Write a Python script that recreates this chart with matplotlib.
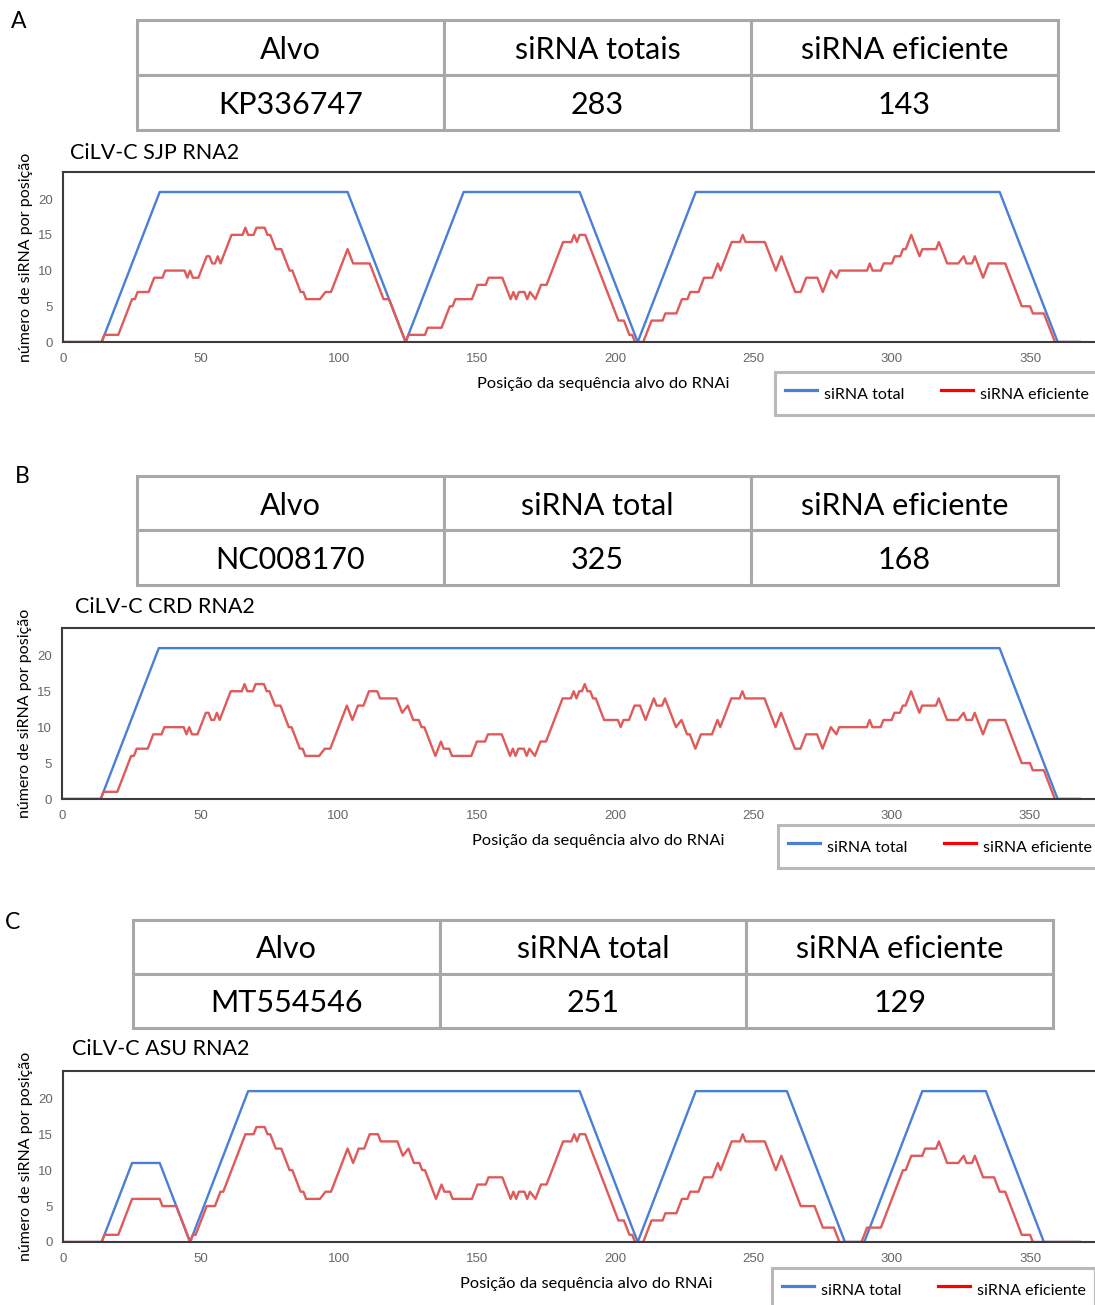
import matplotlib
matplotlib.use("Agg")
import matplotlib.pyplot as plt
from matplotlib.lines import Line2D

W, H = 1095, 1305

# ---------------- data ----------------
x_ticks = [0, 50, 100, 150, 200, 250, 300, 350]
y_ticks = [0, 5, 10, 15, 20]

header_a = ["Alvo", "siRNA totais", "siRNA eficiente"]
header_bc = ["Alvo", "siRNA total", "siRNA eficiente"]
row_a = ["KP336747", "283", "143"]
row_b = ["NC008170", "325", "168"]
row_c = ["MT554546", "251", "129"]

titles = ["CiLV-C SJP RNA2", "CiLV-C CRD RNA2", "CiLV-C ASU RNA2"]
letters = ["A", "B", "C"]
legend_labels = ["siRNA total", "siRNA eficiente"]
xlabel = "Posição da sequência alvo do RNAi"
ylabel = "número de siRNA por posição"

# siRNA total per position (position, count)
total_a = [(0, 0), (14, 0), (35, 21), (103, 21), (124, 0), (145, 21), (187, 21),
           (208, 0), (229, 21), (339, 21), (360, 0), (368, 0)]
total_b = [(0, 0), (14, 0), (35, 21), (339, 21), (360, 0), (368, 0)]
total_c = [(0, 0), (14, 0), (25, 11), (35, 11), (46, 0), (67, 21), (187, 21),
           (208, 0), (229, 21), (262, 21), (283, 0), (290, 0), (311, 21),
           (334, 21), (355, 0), (368, 0)]

# siRNA eficiente per position (position, count)
eff_a = [(0, 0), (14, 0), (15, 1), (20, 1), (25, 6), (26, 6), (27, 7), (31, 7),
         (33, 9), (36, 9), (37, 10), (44, 10), (45, 9), (46, 10), (47, 9), (49, 9),
         (52, 12), (53, 12), (54, 11), (55, 11), (56, 12), (57, 11), (61, 15),
         (65, 15), (66, 16), (67, 15), (69, 15), (70, 16), (73, 16), (74, 15),
         (75, 15), (77, 13), (79, 13), (82, 10), (83, 10), (86, 7), (87, 7),
         (88, 6), (93, 6), (95, 7), (97, 7), (103, 13), (105, 11), (111, 11),
         (116, 6), (118, 6), (124, 0), (125, 1), (131, 1), (132, 2), (137, 2),
         (139, 4), (140, 5), (141, 5), (142, 6), (148, 6), (150, 8), (153, 8),
         (154, 9), (159, 9), (161, 7), (162, 6), (163, 7), (164, 6), (165, 7),
         (167, 7), (168, 6), (169, 7), (171, 6), (173, 8), (175, 8), (181, 14),
         (184, 14), (185, 15), (186, 14), (187, 15), (189, 15), (191, 13),
         (201, 3), (203, 3), (205, 1), (206, 1), (207, 0), (210, 0), (213, 3),
         (217, 3), (218, 4), (222, 4), (224, 6), (226, 6), (227, 7), (230, 7),
         (232, 9), (235, 9), (237, 11), (238, 10), (242, 14), (245, 14),
         (246, 15), (247, 14), (254, 14), (258, 10), (260, 12), (265, 7),
         (267, 7), (269, 9), (273, 9), (275, 7), (278, 10), (280, 9), (281, 10),
         (291, 10), (292, 11), (293, 10), (296, 10), (297, 11), (300, 11),
         (301, 12), (303, 12), (304, 13), (305, 13), (307, 15), (310, 12),
         (311, 13), (316, 13), (317, 14), (320, 11), (324, 11), (326, 12),
         (327, 11), (329, 11), (330, 12), (333, 9), (335, 11), (341, 11),
         (347, 5), (350, 5), (351, 4), (355, 4), (359, 0), (368, 0)]

eff_b = [(0, 0), (14, 0), (15, 1), (20, 1), (25, 6), (26, 6), (27, 7), (31, 7),
         (33, 9), (36, 9), (37, 10), (44, 10), (45, 9), (46, 10), (47, 9), (49, 9),
         (52, 12), (53, 12), (54, 11), (55, 11), (56, 12), (57, 11), (61, 15),
         (65, 15), (66, 16), (67, 15), (69, 15), (70, 16), (73, 16), (74, 15),
         (75, 15), (77, 13), (79, 13), (82, 10), (83, 10), (86, 7), (87, 7),
         (88, 6), (93, 6), (95, 7), (97, 7), (103, 13), (105, 11), (107, 13),
         (109, 13), (111, 15), (114, 15), (115, 14), (121, 14), (123, 12),
         (125, 13), (127, 11), (129, 11), (130, 10), (131, 10), (135, 6),
         (137, 8), (138, 7), (140, 7), (141, 6), (148, 6), (150, 8), (153, 8),
         (154, 9), (159, 9), (161, 7), (162, 6), (163, 7), (164, 6), (165, 7),
         (167, 7), (168, 6), (169, 7), (171, 6), (173, 8), (175, 8), (181, 14),
         (184, 14), (185, 15), (186, 14), (187, 15), (188, 15), (189, 16),
         (190, 15), (191, 15), (192, 14), (193, 14), (196, 11), (201, 11),
         (202, 10), (203, 11), (205, 11), (207, 13), (209, 13), (211, 11),
         (214, 14), (215, 13), (217, 13), (218, 14), (222, 10), (224, 11),
         (226, 9), (227, 9), (229, 7), (231, 9), (235, 9), (237, 11), (238, 10),
         (242, 14), (245, 14), (246, 15), (247, 14), (254, 14), (258, 10),
         (260, 12), (265, 7), (267, 7), (269, 9), (273, 9), (275, 7), (278, 10),
         (280, 9), (281, 10), (291, 10), (292, 11), (293, 10), (296, 10),
         (297, 11), (300, 11), (301, 12), (303, 12), (304, 13), (305, 13),
         (307, 15), (310, 12), (311, 13), (316, 13), (317, 14), (320, 11),
         (324, 11), (326, 12), (327, 11), (329, 11), (330, 12), (333, 9),
         (335, 11), (341, 11), (347, 5), (350, 5), (351, 4), (355, 4), (359, 0),
         (368, 0)]

eff_c = [(0, 0), (14, 0), (15, 1), (20, 1), (25, 6), (35, 6), (36, 5), (41, 5),
         (46, 0), (47, 1), (48, 1), (52, 5), (55, 5), (57, 7), (58, 7), (66, 15),
         (69, 15), (70, 16), (73, 16), (74, 15), (75, 15), (77, 13), (79, 13),
         (82, 10), (83, 10), (86, 7), (87, 7), (88, 6), (93, 6), (95, 7), (97, 7),
         (103, 13), (105, 11), (107, 13), (109, 13), (111, 15), (114, 15),
         (115, 14), (121, 14), (123, 12), (125, 13), (127, 11), (129, 11),
         (130, 10), (131, 10), (135, 6), (137, 8), (138, 7), (140, 7), (141, 6),
         (148, 6), (150, 8), (153, 8), (154, 9), (159, 9), (161, 7), (162, 6),
         (163, 7), (164, 6), (165, 7), (167, 7), (168, 6), (169, 7), (171, 6),
         (173, 8), (175, 8), (181, 14), (184, 14), (185, 15), (186, 14),
         (187, 15), (189, 15), (191, 13), (201, 3), (203, 3), (205, 1), (206, 1),
         (207, 0), (210, 0), (213, 3), (217, 3), (218, 4), (222, 4), (224, 6),
         (226, 6), (227, 7), (230, 7), (232, 9), (235, 9), (237, 11), (238, 10),
         (242, 14), (245, 14), (246, 15), (247, 14), (254, 14), (258, 10),
         (260, 12), (267, 5), (272, 5), (275, 2), (279, 2), (281, 0), (289, 0),
         (291, 2), (296, 2), (304, 10), (305, 10), (307, 12), (311, 12),
         (312, 13), (316, 13), (317, 14), (320, 11), (324, 11), (326, 12),
         (327, 11), (329, 11), (330, 12), (333, 9), (337, 9), (339, 7), (341, 7),
         (347, 1), (350, 1), (351, 0), (368, 0)]

# ---------------- style ----------------
plt.rcParams['font.family'] = ['Lato', 'DejaVu Sans']
BLUE = '#4a7fd6'
RED = '#e05a5a'
GRID_GREY = '#a8a8a8'
AXIS_DARK = '#3c3c3c'


def rect(l, t, r, b):
    """pixel box -> figure fraction"""
    return [l / W, 1 - b / H, (r - l) / W, (b - t) / H]


# layout of each panel in pixels
panels = [
    dict(letter=(11, 28), table=(137, 20, 1058, 130), title=(70, 159),
         axes=(63, 172, 1095, 342), xlab=603, legend=(775, 372),
         header=header_a, row=row_a, total=total_a, eff=eff_a),
    dict(letter=(15, 483), table=(137, 476, 1058, 585), title=(75, 613),
         axes=(62, 628, 1095, 799), xlab=598, legend=(778, 825),
         header=header_bc, row=row_b, total=total_b, eff=eff_b),
    dict(letter=(5, 929), table=(133, 920, 1053, 1028), title=(72, 1055),
         axes=(63, 1071, 1095, 1242), xlab=586, legend=(772, 1268),
         header=header_bc, row=row_c, total=total_c, eff=eff_c),
]

fig = plt.figure(figsize=(W / 100, H / 100), dpi=100)

for i, p in enumerate(panels):
    fig.text(p['letter'][0] / W, 1 - p['letter'][1] / H, letters[i],
             fontsize=16.5, va='baseline', ha='left')

    # summary table
    tax = fig.add_axes(rect(*p['table']))
    tax.axis('off')
    tbl = tax.table(cellText=[p['header'], p['row']], cellLoc='center',
                    bbox=[0, 0, 1, 1])
    tbl.auto_set_font_size(False)
    for cell in tbl.get_celld().values():
        cell.set_edgecolor(GRID_GREY)
        cell.set_linewidth(2.2)
        txt = cell.get_text()
        txt.set_fontsize(22)
        txt.set_va('center_baseline')

    fig.text(p['title'][0] / W, 1 - p['title'][1] / H, titles[i],
             fontsize=15.5, va='baseline', ha='left')

    # line chart
    ax = fig.add_axes(rect(*p['axes']))
    tx, ty = zip(*p['total'])
    ex, ey = zip(*p['eff'])
    ax.plot(tx, ty, color=BLUE, lw=1.7)
    ax.plot(ex, ey, color=RED, lw=1.7)
    ax.set_xlim(0, 373.5)
    ax.set_ylim(0, 23.8)
    ax.set_xticks(x_ticks)
    ax.set_yticks(y_ticks)
    ax.spines['right'].set_visible(False)
    for s in ['top', 'bottom', 'left']:
        ax.spines[s].set_color(AXIS_DARK)
        ax.spines[s].set_linewidth(1.5)
    ax.tick_params(axis='both', length=0, labelsize=9.5, labelcolor='#666666')
    ax.tick_params(axis='x', pad=8)
    ax.tick_params(axis='y', pad=7)
    for lbl in ax.get_xticklabels() + ax.get_yticklabels():
        lbl.set_fontfamily('Liberation Sans')

    ax_w = p['axes'][2] - p['axes'][0]
    ax_h = p['axes'][3] - p['axes'][1]
    ax.set_xlabel(xlabel, fontsize=11.8)
    ax.xaxis.set_label_coords((p['xlab'] - p['axes'][0]) / ax_w, -35 / ax_h)
    ax.set_ylabel(ylabel, fontsize=11.5)
    ax.yaxis.set_label_coords(-30 / ax_w, 0.5)

    handles = [Line2D([], [], color=BLUE, lw=2.3),
               Line2D([], [], color='#ff0000', lw=2.3)]
    leg = fig.legend(handles, legend_labels, loc='upper left',
                     bbox_to_anchor=(p['legend'][0] / W, 1 - p['legend'][1] / H),
                     ncol=2, frameon=True, fancybox=False, edgecolor=GRID_GREY,
                     borderaxespad=0, handlelength=2.0, handletextpad=0.45,
                     handleheight=1.9, columnspacing=2.3, borderpad=0.6,
                     fontsize=11.5)
    leg.get_frame().set_linewidth(2.2)

fig.savefig('out.png', dpi=100, facecolor='white')
